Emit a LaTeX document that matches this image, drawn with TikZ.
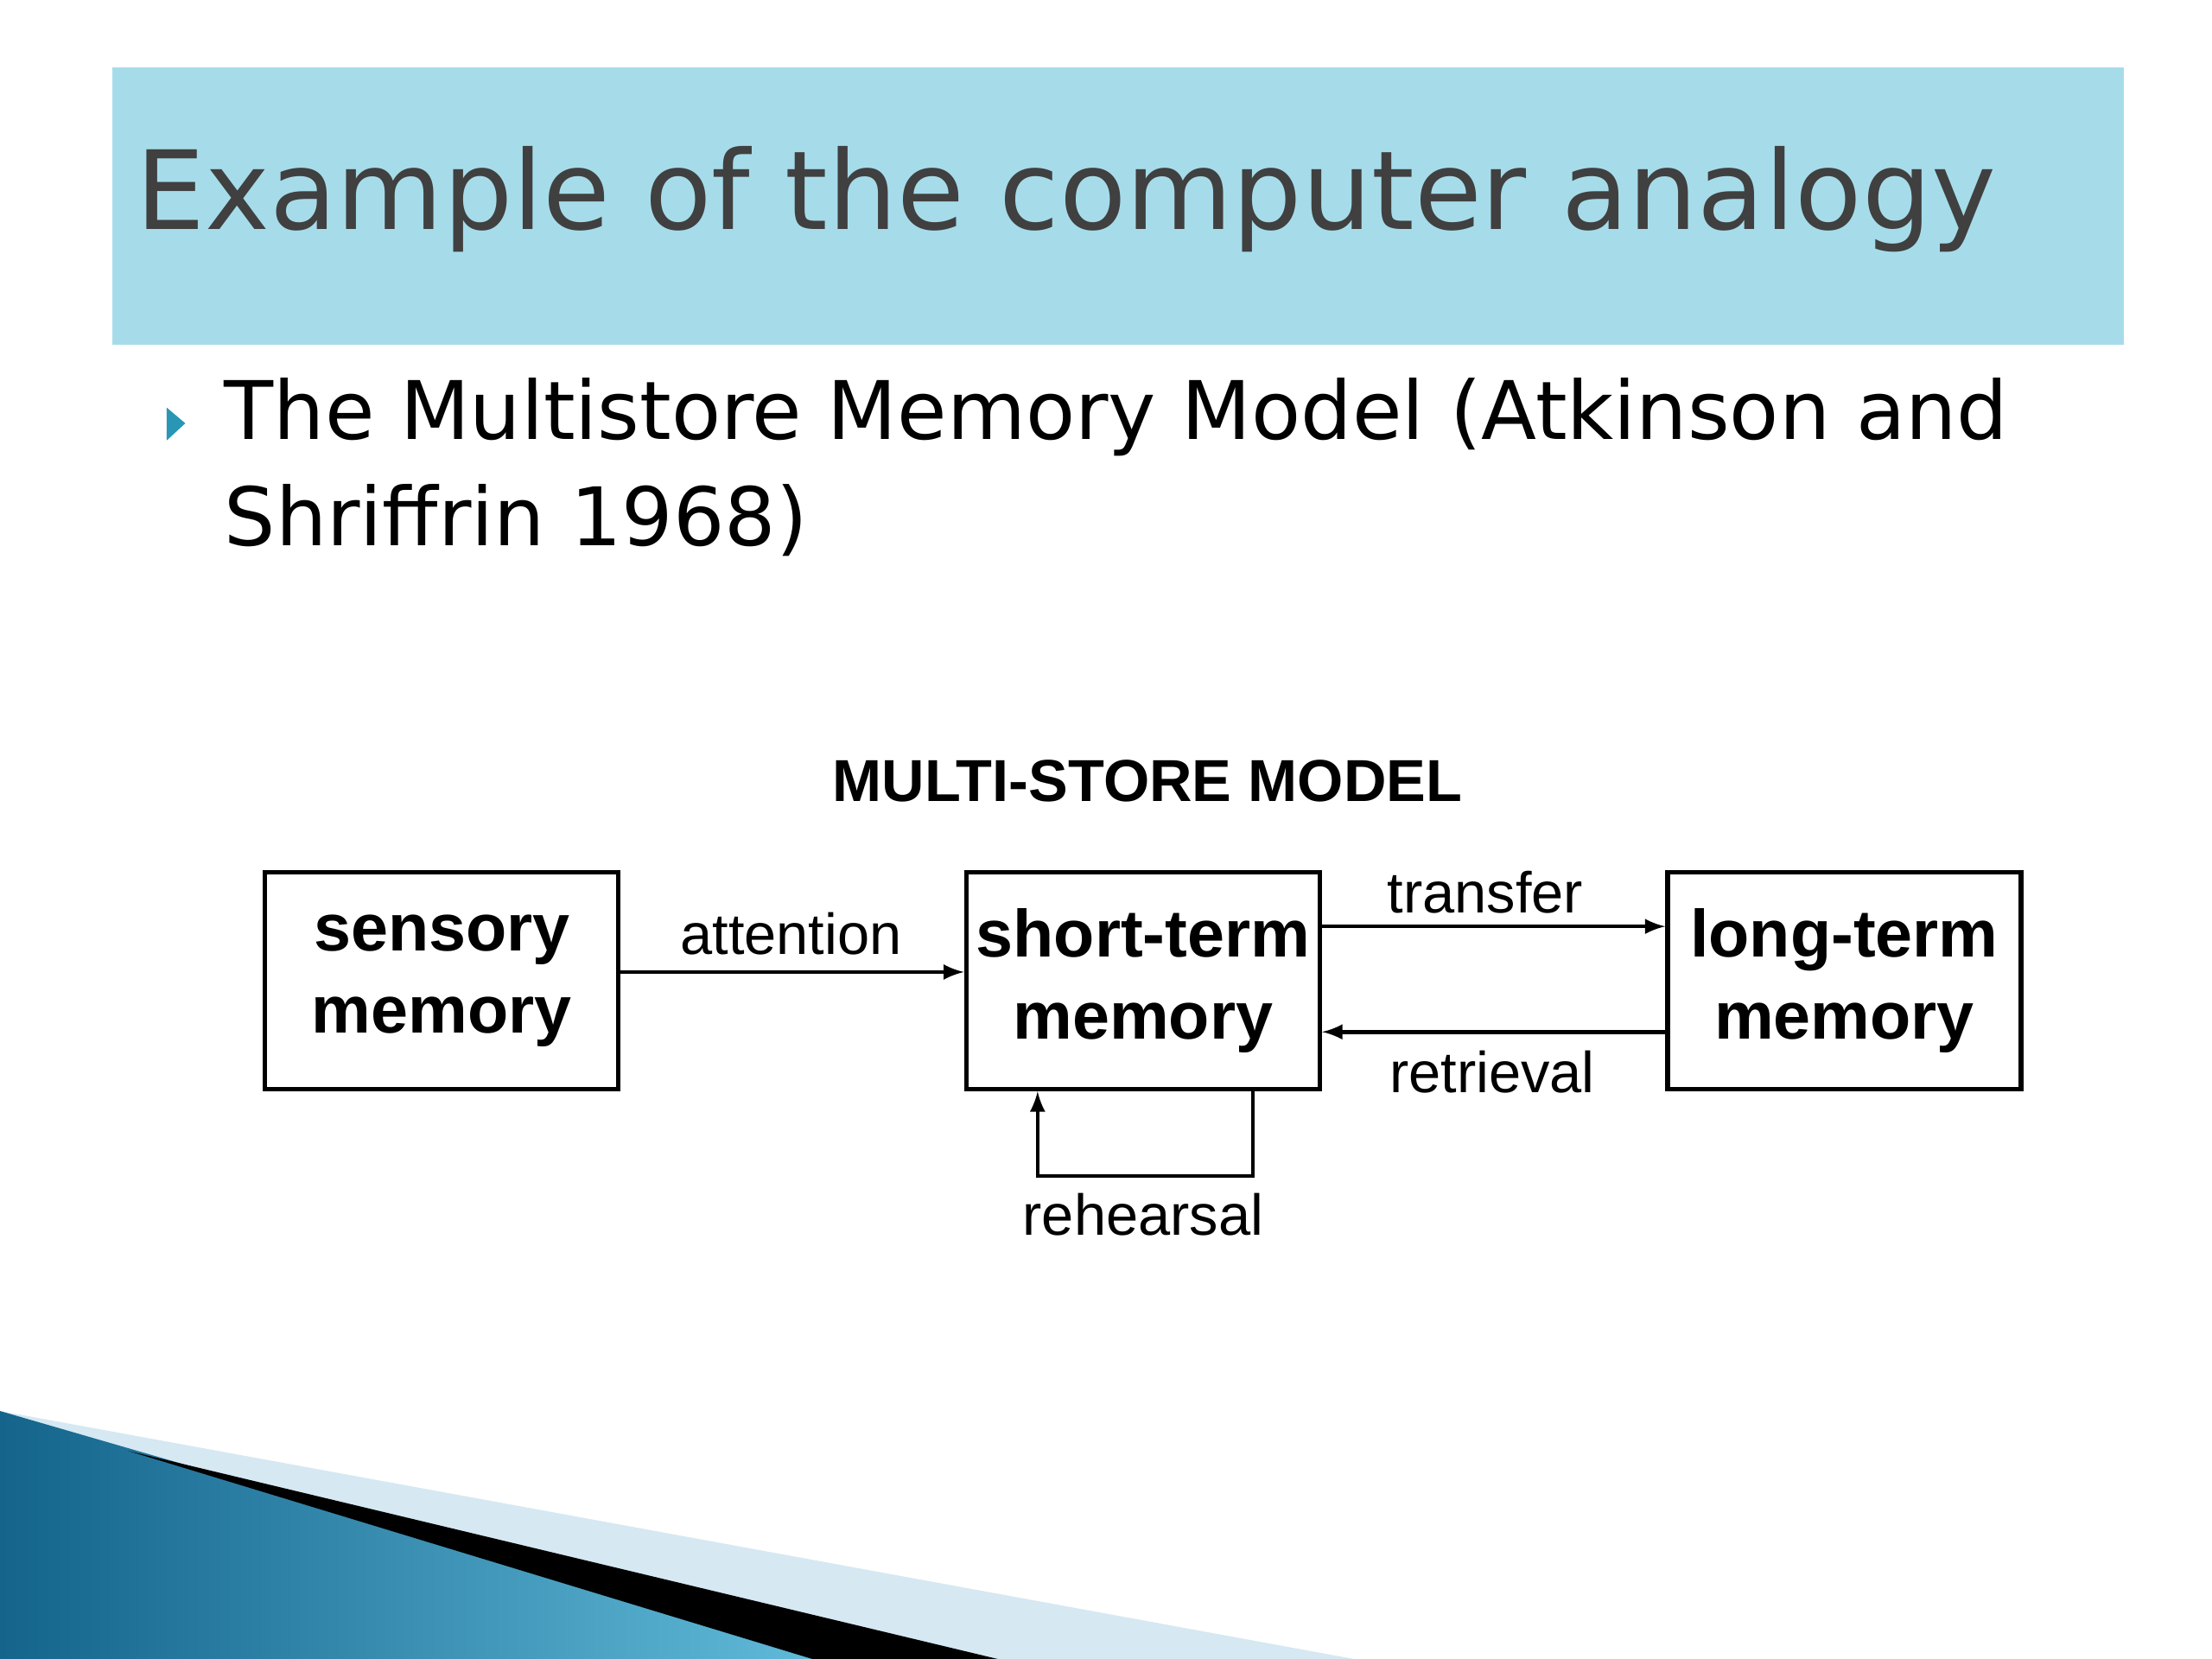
\documentclass[tikz,border=0pt]{standalone}
\usepackage{fontspec}
\setmainfont{DejaVu Sans}
\newfontfamily\arial{Liberation Sans}
\definecolor{hdrbg}{RGB}{166,220,234}
\definecolor{ttl}{RGB}{64,64,64}
\definecolor{bul}{RGB}{40,150,180}
\definecolor{lb}{RGB}{214,232,242}
\definecolor{db}{RGB}{20,100,140}
\definecolor{mb}{RGB}{100,190,220}
\begin{document}
\begin{tikzpicture}[x=0.016495cm,y=-0.016495cm,
  box/.style={draw,line width=1.5pt,minimum width=4.09cm,minimum height=2.51cm,inner sep=0pt,align=center,font=\arial\bfseries\fontsize{22}{27}\selectfont},
  lbl/.style={font=\arial\fontsize{19}{22}\selectfont},
  arr/.style={line width=1.3pt,-latex}]
\useasboundingbox (0,0) rectangle (1552,1164);
\fill[white] (0,0) rectangle (1552,1164);
% header
\fill[hdrbg] (79,47) rectangle (1490,242);
\node[anchor=west,inner sep=0pt,text=ttl,font=\fontsize{36}{40}\selectfont] (title) at (95,140) {Example of the computer analogy};
% bullet
\fill[bul] (117,286) -- (130,297) -- (117,309) -- cycle;
\node[anchor=north west,inner sep=0pt,align=left,font=\fontsize{26.6}{35}\selectfont] (sub) at (157,265) {The Multistore Memory Model (Atkinson and\\Shriffrin 1968)};
% diagram
\node[font=\arial\bfseries\fontsize{19.5}{23}\selectfont] (hdr) at (805,548) {MULTI-STORE MODEL};
\node[box] (sm) at (310,688) {sensory\\memory};
\node[box] (st) at (802,688) {short-term\\memory};
\node[box] (lt) at (1294,688) {long-term\\memory};
\coordinate (ya) at (0,682);
\coordinate (yt) at (0,650);
\coordinate (yr) at (0,724);
\draw[arr] (sm.east |- ya) -- (st.west |- ya);
\node[lbl] (att) at (555,655) {attention};
\draw[arr] (st.east |- yt) -- (lt.west |- yt);
\node[lbl] (tr) at (1042,626) {transfer};
\draw[arr] (lt.west |- yr) -- (st.east |- yr);
\node[lbl] (ret) at (1047,752) {retrieval};
\coordinate (r1) at (879,825);
\coordinate (r2) at (728,825);
\draw[arr] (st.south -| r1) -- (r1) -- (r2) -- (st.south -| r2);
\node[lbl] (reh) at (802,852) {rehearsal};
% bottom decoration
\fill[lb] (0,990) -- (950,1164) -- (0,1164) -- cycle;
\shade[left color=db,right color=mb] (0,990) -- (600,1164) -- (0,1164) -- cycle;
\fill[black] (90,1018) -- (700,1164) -- (570,1164) -- cycle;
\end{tikzpicture}
\end{document}
